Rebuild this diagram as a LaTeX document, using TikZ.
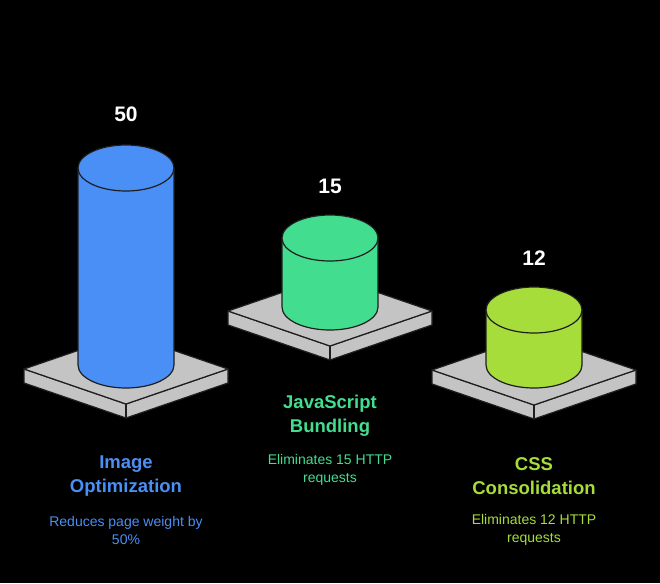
\documentclass[tikz,border=0pt]{standalone}
\usepackage{fontspec}
\setmainfont{Liberation Sans}
\definecolor{cblue}{HTML}{4A8FF5}
\definecolor{cgreen}{HTML}{43DD8F}
\definecolor{clime}{HTML}{A6DD3A}
\definecolor{plat}{HTML}{C4C4C4}
\definecolor{edge}{HTML}{1E1E1E}
\begin{document}
\begin{tikzpicture}[x=1pt,y=-1pt,
  ln/.style={draw=edge,line width=1.2pt,line join=round},
  num/.style={text=white,font=\bfseries\fontsize{21}{24}\selectfont},
  ttl/.style={font=\bfseries\fontsize{18.5}{24}\selectfont,align=center},
  dsc/.style={font=\fontsize{14}{18}\selectfont,align=center}]
\fill[black] (0,0) rectangle (660,583);
\useasboundingbox (0,0) rectangle (660,583);
\newcommand\myplat[2]{%
  \draw[ln,fill=plat] (#1-102,#2) -- (#1,#2+35) -- (#1+102,#2) -- (#1+102,#2+14) -- (#1,#2+49) -- (#1-102,#2+14) -- cycle;
  \draw[ln] (#1,#2+35) -- (#1,#2+49);
  \draw[ln,fill=plat] (#1-102,#2) -- (#1,#2-35) -- (#1+102,#2) -- (#1,#2+35) -- cycle;}
\newcommand\mycyl[4]{%
  \draw[ln,fill=#4] (#1-48,#2) -- (#1-48,#3) arc[start angle=180,end angle=0,x radius=48,y radius=23] -- (#1+48,#2);
  \draw[ln,fill=#4] (#1,#2) ellipse[x radius=48,y radius=23];}
\myplat{126}{369}
\mycyl{126}{168}{365}{cblue}
\myplat{330}{311}
\mycyl{330}{238}{307}{cgreen}
\myplat{534}{370}
\mycyl{534}{310}{365}{clime}
\node[num] (n1) at (126,114) {50};
\node[num] (n2) at (330,186) {15};
\node[num] (n3) at (534,258) {12};
\node[ttl,text=cblue] (t1) at (126,476) {Image\\Optimization};
\node[dsc,text=cblue] (d1) at (126,530) {Reduces page weight by\\50\%};
\node[ttl,text=cgreen] (t2) at (330,416) {JavaScript\\Bundling};
\node[dsc,text=cgreen] (d2) at (330,470) {Eliminates 15 HTTP\\requests};
\node[ttl,text=clime] (t3) at (534,476) {CSS\\Consolidation};
\node[dsc,text=clime] (d3) at (534,530) {Eliminates 12 HTTP\\requests};
\end{tikzpicture}
\end{document}
